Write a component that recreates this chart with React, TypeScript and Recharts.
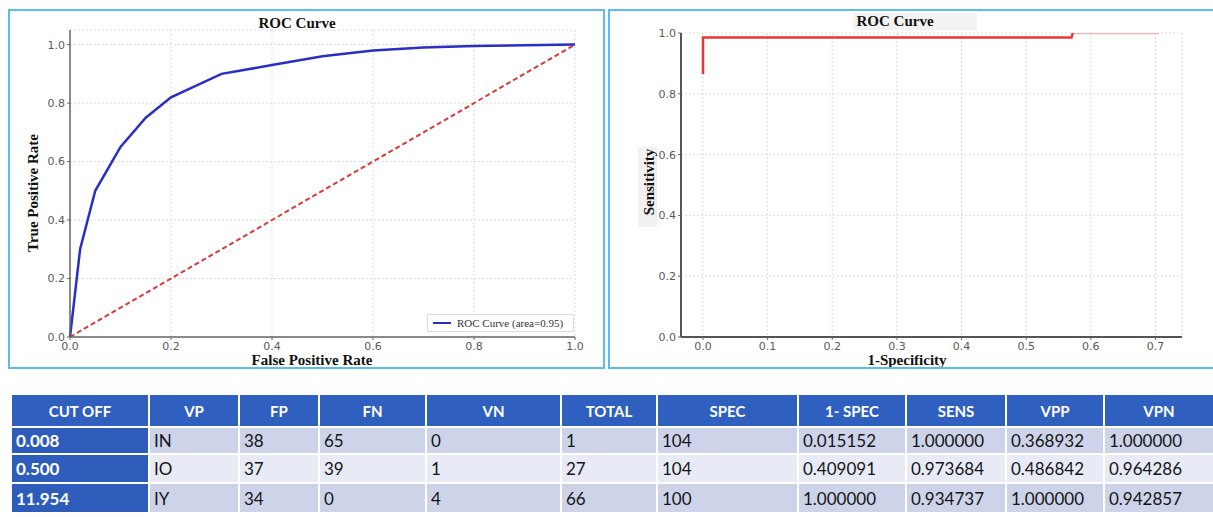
import { CartesianGrid, Line, LineChart, XAxis, YAxis } from "recharts";

// left chart: ROC curve + chance diagonal
const rocFpr = [0, 0.02, 0.05, 0.1, 0.15, 0.2, 0.3, 0.4, 0.5, 0.6, 0.7, 0.8, 1.0];
const rocTpr = [0, 0.3, 0.5, 0.65, 0.75, 0.82, 0.9, 0.93, 0.96, 0.98, 0.99, 0.995, 1.0];
const chanceX = [0, 1];
const chanceY = [0, 1];
const leftTicks = [0, 0.2, 0.4, 0.6, 0.8, 1.0];

// right chart: sensitivity vs 1-specificity (step)
const stepX = [0, 0, 0.57, 0.572];
const stepY = [0.865, 0.985, 0.985, 1.0];
const tailX = [0.572, 0.705];
const tailY = [1.0, 1.0];
const rightXTicks = [0, 0.1, 0.2, 0.3, 0.4, 0.5, 0.6, 0.7];
const rightYTicks = [0, 0.2, 0.4, 0.6, 0.8, 1.0];

// table
const headers = ["CUT OFF", "VP", "FP", "FN", "VN", "TOTAL", "SPEC", "1- SPEC", "SENS", "VPP", "VPN"];
const cutOffs = ["0.008", "0.500", "11.954"];
const vp = ["IN", "IO", "IY"];
const fp = ["38", "37", "34"];
const fn = ["65", "39", "0"];
const vn = ["0", "1", "4"];
const total = ["1", "27", "66"];
const spec = ["104", "104", "100"];
const oneMinusSpec = ["0.015152", "0.409091", "1.000000"];
const sens = ["1.000000", "0.973684", "0.934737"];
const vpp = ["0.368932", "0.486842", "1.000000"];
const vpn = ["1.000000", "0.964286", "0.942857"];

const colWidths = [138, 90, 80, 107, 135, 96, 141, 108, 100, 98, 110];
const rowHeights = [27, 29, 30];

const zip = (xs: number[], ys: number[]) => xs.map((x, i) => ({ x, y: ys[i] }));

const tickStyle = { fontSize: 11, fill: "#5a5a5a", fontFamily: "DejaVu Sans" };
const serifBold = {
  fontFamily: "Liberation Serif",
  fontWeight: "bold" as const,
  fontSize: 15,
  color: "#111",
  position: "absolute" as const,
  whiteSpace: "nowrap" as const,
};
const fmt = (v: number) => v.toFixed(1);

const Box = ({ left, width }: { left: number; width: number }) => (
  <div
    style={{
      position: "absolute",
      left,
      top: 9,
      width,
      height: 360,
      border: "2px solid #5bbdea",
      boxSizing: "border-box",
      pointerEvents: "none",
    }}
  />
);

const LeftChart = () => (
  <div style={{ position: "absolute", left: 0, top: 0 }}>
    <LineChart width={605} height={370} margin={{ top: 30, right: 30, bottom: 15, left: 40 }}>
      <CartesianGrid strokeDasharray="2 2" stroke="#dcdcdc" />
      <XAxis
        type="number"
        dataKey="x"
        domain={[0, 1]}
        ticks={leftTicks}
        tickFormatter={fmt}
        height={18}
        tickSize={3}
        tick={tickStyle}
        axisLine={{ stroke: "#666", strokeWidth: 1.5 }}
        tickLine={{ stroke: "#666" }}
      />
      <YAxis
        type="number"
        domain={[0, 1.05]}
        ticks={leftTicks}
        tickFormatter={fmt}
        width={30}
        tickSize={3}
        tick={tickStyle}
        axisLine={{ stroke: "#666", strokeWidth: 1.5 }}
        tickLine={{ stroke: "#666" }}
      />
      <Line
        data={zip(chanceX, chanceY)}
        dataKey="y"
        stroke="#d93a3a"
        strokeWidth={2}
        strokeDasharray="5 3"
        dot={false}
        isAnimationActive={false}
      />
      <Line
        data={zip(rocFpr, rocTpr)}
        dataKey="y"
        stroke="#2a2ec4"
        strokeWidth={2.5}
        dot={false}
        isAnimationActive={false}
      />
    </LineChart>
    <div style={{ ...serifBold, left: 297, top: 15, transform: "translateX(-50%)" }}>ROC Curve</div>
    <div style={{ ...serifBold, left: 312, top: 352, transform: "translateX(-50%)" }}>False Positive Rate</div>
    <div
      style={{
        ...serifBold,
        left: 33,
        top: 193,
        transform: "translate(-50%, -50%) rotate(-90deg)",
      }}
    >
      True Positive Rate
    </div>
    <div
      style={{
        position: "absolute",
        left: 427,
        top: 314,
        width: 147,
        height: 18,
        background: "#fff",
        border: "1px solid #ddd",
        boxSizing: "border-box",
        display: "flex",
        alignItems: "center",
        fontFamily: "Liberation Serif",
        fontSize: 11,
        color: "#333",
      }}
    >
      <span style={{ display: "inline-block", width: 18, height: 2, background: "#2a2ec4", margin: "0 6px 0 5px" }} />
      ROC Curve (area=0.95)
    </div>
  </div>
);

const RightChart = () => (
  <div style={{ position: "absolute", left: 605, top: 0 }}>
    <div style={{ position: "absolute", left: 248, top: 13, width: 124, height: 17, background: "#f3f3f3" }} />
    <div style={{ position: "absolute", left: 33, top: 147, width: 19, height: 80, background: "#f1f1f1" }} />
    <div style={{ position: "absolute", left: 0, top: 0 }}>
      <LineChart width={608} height={370} margin={{ top: 33, right: 31, bottom: 15, left: 46 }}>
        <CartesianGrid strokeDasharray="2 2" stroke="#dcdcdc" />
        <XAxis
          type="number"
          dataKey="x"
          domain={[-0.034, 0.741]}
          ticks={rightXTicks}
          tickFormatter={fmt}
          height={18}
          tickSize={3}
          tick={tickStyle}
          axisLine={{ stroke: "#555", strokeWidth: 2 }}
          tickLine={{ stroke: "#666" }}
          allowDataOverflow
        />
        <YAxis
          type="number"
          domain={[0, 1]}
          ticks={rightYTicks}
          tickFormatter={fmt}
          width={30}
          tickSize={3}
          tick={tickStyle}
          axisLine={{ stroke: "#555", strokeWidth: 2 }}
          tickLine={{ stroke: "#666" }}
          allowDataOverflow
        />
        <Line
          data={zip(tailX, tailY)}
          dataKey="y"
          stroke="#f7b4b4"
          strokeWidth={2.5}
          dot={false}
          isAnimationActive={false}
        />
        <Line
          data={zip(stepX, stepY)}
          dataKey="y"
          stroke="#ee3434"
          strokeWidth={2.5}
          dot={false}
          isAnimationActive={false}
        />
      </LineChart>
    </div>
    <div style={{ ...serifBold, left: 290, top: 13, transform: "translateX(-50%)" }}>ROC Curve</div>
    <div style={{ ...serifBold, left: 302, top: 352, transform: "translateX(-50%)" }}>1-Specificity</div>
    <div
      style={{
        ...serifBold,
        left: 44,
        top: 182,
        transform: "translate(-50%, -50%) rotate(-90deg)",
      }}
    >
      Sensitivity
    </div>
  </div>
);

const columns = [cutOffs, vp, fp, fn, vn, total, spec, oneMinusSpec, sens, vpp, vpn];

const Table = () => (
  <table
    style={{
      position: "absolute",
      left: 10,
      top: 393,
      width: 1205,
      borderCollapse: "collapse",
      tableLayout: "fixed",
      fontFamily: "Lato",
    }}
  >
    <colgroup>
      {colWidths.map((w, i) => (
        <col key={i} style={{ width: w }} />
      ))}
    </colgroup>
    <thead>
      <tr style={{ height: 33 }}>
        {headers.map((h) => (
          <th
            key={h}
            style={{
              background: "#2f5fbf",
              color: "#fff",
              fontSize: 15,
              fontWeight: "bold",
              border: "2px solid #fff",
              padding: 0,
            }}
          >
            {h}
          </th>
        ))}
      </tr>
    </thead>
    <tbody>
      {cutOffs.map((_, r) => (
        <tr key={r} style={{ height: rowHeights[r] }}>
          {columns.map((col, c) => (
            <td
              key={c}
              style={{
                background: c === 0 ? "#2d5cbb" : r % 2 === 0 ? "#cdd4ea" : "#e8ebf5",
                color: c === 0 ? "#fff" : "#151515",
                fontWeight: c === 0 ? "bold" : "normal",
                fontSize: 17,
                border: "2px solid #fff",
                padding: "0 0 0 4px",
                whiteSpace: "nowrap",
              }}
            >
              {col[r]}
            </td>
          ))}
        </tr>
      ))}
    </tbody>
  </table>
);

export default function App() {
  return (
    <div style={{ position: "absolute", left: 0, top: 0, width: 1213, height: 517, background: "#fff", overflow: "hidden" }}>
      <LeftChart />
      <RightChart />
      <Box left={8} width={597} />
      <Box left={608} width={610} />
      <Table />
    </div>
  );
}
